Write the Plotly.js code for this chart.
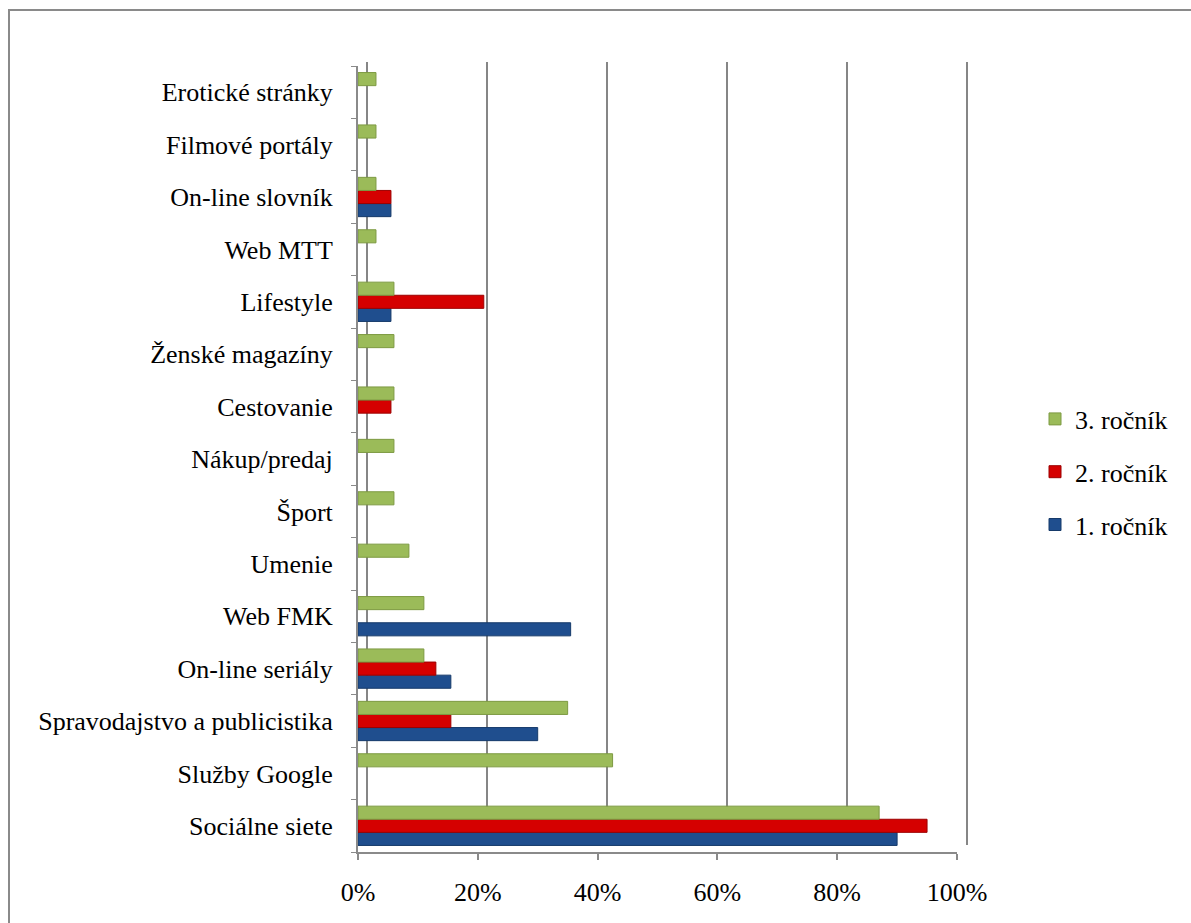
<!DOCTYPE html>
<html>
<head>
<meta charset="utf-8">
<script src="https://cdn.plot.ly/plotly-3.0.1.min.js"></script>
<style>
  html, body { margin: 0; padding: 0; background: #ffffff; }
  #frame {
    position: absolute; left: 8px; top: 9px; width: 1183px; height: 914px;
    border-left: 2px solid #8a8a8a; border-top: 2px solid #8a8a8a;
    box-sizing: border-box;
  }
  #chart { position: absolute; left: 0; top: 0; width: 1191px; height: 923px; }
</style>
</head>
<body>
<div id="frame"></div>
<div id="chart"></div>
<script>
// Categories, listed from the bottom of the chart upwards
const categories = [
  'Sociálne siete',
  'Služby Google',
  'Spravodajstvo a publicistika',
  'On-line seriály',
  'Web FMK',
  'Umenie',
  'Šport',
  'Nákup/predaj',
  'Cestovanie',
  'Ženské magazíny',
  'Lifestyle',
  'Web MTT',
  'On-line slovník',
  'Filmové portály',
  'Erotické stránky'
];

// Share of students (%) per year of study
const rocnik1 = [90, null, 30, 15.5, 35.5, null, null, null, null, null, 5.5, null, 5.5, null, null];
const rocnik2 = [95, null, 15.5, 13, null, null, null, null, 5.5, null, 21, null, 5.5, null, null];
const rocnik3 = [87, 42.5, 35, 11, 11, 8.5, 6, 6, 6, 6, 6, 3, 3, 3, 3];

const seriesNames = ['1. ročník', '2. ročník', '3. ročník'];
const tickVals = [0, 20, 40, 60, 80, 100];
const tickText = ['0%', '20%', '40%', '60%', '80%', '100%'];

const fills = ['#1f4e8e', '#d50000', '#9bbb59'];
const edges = ['#163a6a', '#9c0000', '#7d9a42'];

// back wall subplot (x / y): only its vertical grid is shown
const traces = [{
  type: 'scatter', x: [], y: [], xaxis: 'x', yaxis: 'y',
  showlegend: false, hoverinfo: 'skip'
}];

// bars sit on the front subplot (x2 / y2), drawn over the back wall
[rocnik1, rocnik2, rocnik3].forEach((vals, i) => {
  traces.push({
    type: 'bar',
    orientation: 'h',
    name: seriesNames[i],
    legendgroup: 'g' + i,
    legendrank: 3 - i,
    x: vals,
    y: categories,
    xaxis: 'x2',
    yaxis: 'y2',
    marker: { color: fills[i], line: { color: edges[i], width: 1 } },
    hoverinfo: 'x+y+name'
  });
});

const serif = 'Liberation Serif';
const plotL = 358, plotR = 220;
const plotW = 1191 - plotL - plotR;
const plotH = 923 - 62 - 71;

// back wall: 0 % at x=367, 100 % at x=967, padded so the edge grid lines survive
const wallPad = 0.3;
const wallPx = (v) => 367 + v * 6.0 - plotL;

const layout = {
  width: 1191,
  height: 923,
  margin: { l: plotL, r: plotR, t: 62, b: 71 },
  paper_bgcolor: 'rgba(0,0,0,0)',
  plot_bgcolor: 'rgba(0,0,0,0)',
  font: { family: serif, size: 26, color: '#000000' },
  barmode: 'group',
  bargap: 0.25,
  bargroupgap: 0,
  showlegend: true,
  legend: {
    xref: 'container', yref: 'container',
    x: 1035 / 1191, y: 1 - 472 / 923,
    xanchor: 'left', yanchor: 'middle',
    traceorder: 'grouped',
    tracegroupgap: 16,
    font: { family: serif, size: 26, color: '#000000' },
    bgcolor: 'rgba(0,0,0,0)'
  },
  xaxis: {
    domain: [wallPx(-wallPad) / plotW, wallPx(100 + wallPad) / plotW],
    range: [-wallPad, 100 + wallPad],
    anchor: 'y',
    tickvals: tickVals,
    showticklabels: false,
    ticks: '',
    showline: false,
    showgrid: true,
    gridcolor: '#868686',
    gridwidth: 2,
    zeroline: false
  },
  yaxis: {
    domain: [7 / plotH, 1],
    range: [0, 1],
    anchor: 'x',
    showticklabels: false,
    ticks: '',
    showline: false,
    showgrid: false,
    zeroline: false
  },
  xaxis2: {
    domain: [0, 599 / plotW],
    range: [0, 100],
    anchor: 'y2',
    tickvals: tickVals,
    ticktext: tickText,
    ticks: 'outside',
    ticklen: 6,
    tickwidth: 2,
    tickcolor: '#8a8a8a',
    showline: true,
    linecolor: '#8a8a8a',
    linewidth: 2,
    showgrid: false,
    zeroline: false,
    ticklabelstandoff: 10
  },
  yaxis2: {
    domain: [0, (plotH - 4) / plotH],
    anchor: 'x2',
    type: 'category',
    categoryorder: 'array',
    categoryarray: categories,
    range: [-0.5, categories.length - 0.5],
    tickson: 'boundaries',
    ticks: 'outside',
    ticklen: 5,
    tickwidth: 1,
    tickcolor: '#8a8a8a',
    showline: true,
    linecolor: '#8a8a8a',
    linewidth: 2,
    showgrid: false,
    zeroline: false,
    ticklabelstandoff: 18
  }
};

Plotly.newPlot('chart', traces, layout, { displayModeBar: false, staticPlot: true });
</script>
</body>
</html>
